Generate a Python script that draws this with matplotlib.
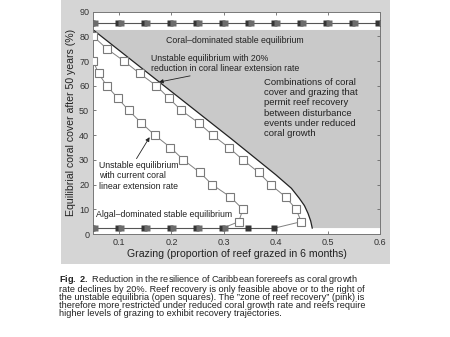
import matplotlib
matplotlib.use("Agg")
import matplotlib.pyplot as plt
import matplotlib.transforms as mtransforms
from matplotlib.patches import Rectangle, Polygon

plt.rcParams['font.family'] = ['Liberation Sans', 'DejaVu Sans']
plt.rcParams['mathtext.fontset'] = 'custom'
plt.rcParams['mathtext.bf'] = 'Liberation Sans:bold'
plt.rcParams['mathtext.rm'] = 'Liberation Sans'

# ---- data ----
# unstable equilibrium, 20% reduced coral growth (open squares)
reduced_x = [0.05, 0.076, 0.109, 0.139, 0.171, 0.195, 0.219, 0.252, 0.279, 0.310,
             0.337, 0.367, 0.390, 0.419, 0.439, 0.449, 0.40]
reduced_y = [80, 75, 70, 65, 60, 55, 50, 45, 40, 35, 30, 25, 20, 15, 10, 5, 2.5]

# unstable equilibrium, current coral growth (open squares)
current_x = [0.05, 0.060, 0.076, 0.097, 0.118, 0.142, 0.168, 0.198, 0.223, 0.254,
             0.278, 0.313, 0.337, 0.329, 0.30]
current_y = [70, 65, 60, 55, 50, 45, 40, 35, 30, 25, 20, 15, 10, 5, 2.5]

# boundary of the recovery zone (reduced growth)
bound_x = [0.05, 0.315, 0.40, 0.43, 0.445, 0.455, 0.462, 0.467, 0.47]
bound_y = [82.6, 38.5, 24, 18.5, 14.5, 11.5, 8.3, 5.3, 2.4]

# stable equilibria (filled squares)
coral_x = [0.05, 0.10, 0.15, 0.20, 0.25, 0.30, 0.35, 0.40, 0.45, 0.50, 0.55, 0.60]
coral_y = [85.5] * len(coral_x)
algal_red_x = [0.05, 0.10, 0.15, 0.20, 0.25, 0.30, 0.35, 0.40]
algal_red_y = [2.5] * len(algal_red_x)
algal_cur_x = [0.05, 0.10, 0.15, 0.20, 0.25, 0.30]
algal_cur_y = [2.5] * len(algal_cur_x)

x_ticks = [0.1, 0.2, 0.3, 0.4, 0.5, 0.6]
y_ticks = [0, 10, 20, 30, 40, 50, 60, 70, 80, 90]

caption = [
    r"$\mathbf{Fig.}$ $\mathbf{2.}$ Reduction in the resilience of Caribbean forereefs as coral growth",
    "rate declines by 20%. Reef recovery is only feasible above or to the right of",
    "the unstable equilibria (open squares). The \u201dzone of reef recovery\u201d (pink) is",
    "therefore more restricted under reduced coral growth rate and reefs require",
    "higher levels of grazing to exhibit recovery trajectories.",
]

fig = plt.figure(figsize=(4.5, 3.37), dpi=100)
fig.patch.set_facecolor('white')
# grey panel behind the plot
fig.add_artist(Rectangle((61 / 450, 1 - 264 / 337), (390 - 61) / 450, 264 / 337,
                         transform=fig.transFigure, facecolor='#d5d5d5',
                         edgecolor='none', zorder=-5))

ax = fig.add_axes([93.3 / 450, 1 - 234 / 337, (380 - 93.3) / 450, (234 - 11.7) / 337])
ax.set_zorder(2)
ax.set_facecolor('white')
ax.set_xlim(0.05, 0.6)
ax.set_ylim(0, 90)

# shaded recovery zone
zone = list(zip(bound_x, bound_y)) + [(0.6, bound_y[-1]), (0.6, bound_y[0])]
ax.add_patch(Polygon(zone, closed=True, facecolor='#c9c9c9', edgecolor='none', zorder=1))
ax.plot(bound_x, bound_y, color='#222222', lw=0.9, zorder=2)

# unstable equilibria
for xs, ys in [(reduced_x, reduced_y), (current_x, current_y)]:
    ax.plot(xs, ys, color='#808080', lw=0.7, zorder=3)
    ax.plot(xs[:-1], ys[:-1], ls='none', marker='s', ms=5.5, mfc='white',
            mec='#7a7a7a', mew=0.8, zorder=4)

# stable equilibria, two overlapping series
left = ax.transData + mtransforms.ScaledTranslation(-1.1 / 72, 0, fig.dpi_scale_trans)
right = ax.transData + mtransforms.ScaledTranslation(1.1 / 72, 0, fig.dpi_scale_trans)
ax.plot(coral_x, coral_y, color='#555555', lw=0.8, zorder=3)
ax.plot(algal_red_x, algal_red_y, color='#555555', lw=0.8, zorder=3)
ax.plot(coral_x, coral_y, ls='none', marker='s', ms=5, mfc='#353535', mec='none',
        transform=left, zorder=4)
ax.plot(coral_x, coral_y, ls='none', marker='s', ms=5, mfc='#6c6c6c', mec='none',
        transform=right, zorder=5)
ax.plot(algal_red_x, algal_red_y, ls='none', marker='s', ms=5, mfc='#353535', mec='none',
        transform=left, zorder=4)
ax.plot(algal_cur_x, algal_cur_y, ls='none', marker='s', ms=5, mfc='#6c6c6c', mec='none',
        transform=right, zorder=5)

# labels
fs = 6.3
tc = '#222222'
ax.text(0.19, 78.5, "Coral\u2013dominated stable equilibrium", fontsize=fs, color=tc,
        va='center', zorder=6)
ax.text(0.056, 8.0, "Algal\u2013dominated stable equilibrium", fontsize=fs, color=tc,
        va='center', zorder=6)
ax.annotate("Unstable equilibrium with 20%\nreduction in coral linear extension rate",
            xy=(0.176, 61.5), xytext=(0.16, 69.0), fontsize=fs, color=tc, va='center',
            linespacing=1.15,
            arrowprops=dict(arrowstyle='-|>', color='#222222', lw=0.6, mutation_scale=6,
                            shrinkA=0, shrinkB=0, relpos=(0.36, 0)), zorder=6)
ax.annotate("Unstable equilibrium\nwith current coral\nlinear extension rate",
            xy=(0.158, 39.2), xytext=(0.061, 23.5), fontsize=fs, color=tc, va='center',
            linespacing=1.15,
            arrowprops=dict(arrowstyle='-|>', color='#222222', lw=0.6, mutation_scale=6,
                            shrinkA=0, shrinkB=0, relpos=(0.45, 1)), zorder=6)
ax.text(0.377, 63.0, "Combinations of coral\ncover and grazing that\npermit reef recovery\n"
        "between disturbance\nevents under reduced\ncoral growth", fontsize=6.8, color=tc,
        va='top', linespacing=1.15, zorder=6)

ax.set_xticks(x_ticks)
ax.set_yticks(y_ticks)
ax.tick_params(direction='in', top=True, right=True, length=2.5, width=0.6,
               labelsize=6.5, labelcolor='#333333', color='#666666', pad=3)
for s in ax.spines.values():
    s.set_color('#777777')
    s.set_linewidth(0.7)
ax.set_xlabel("Grazing (proportion of reef grazed in 6 months)", fontsize=7.6, color='#222222',
              labelpad=1)
ax.set_ylabel("Equilibrial coral cover after 50 years (%)", fontsize=7.6, color='#222222',
              labelpad=2)

# caption
fig.text(59 / 450, 1 - 273 / 337, "\n".join(caption), fontsize=6.6,
         family=['Liberation Sans', 'DejaVu Sans'], color='#222222',
         va='top', ha='left', linespacing=0.86)

fig.savefig("out.png", dpi=100, facecolor='white')
